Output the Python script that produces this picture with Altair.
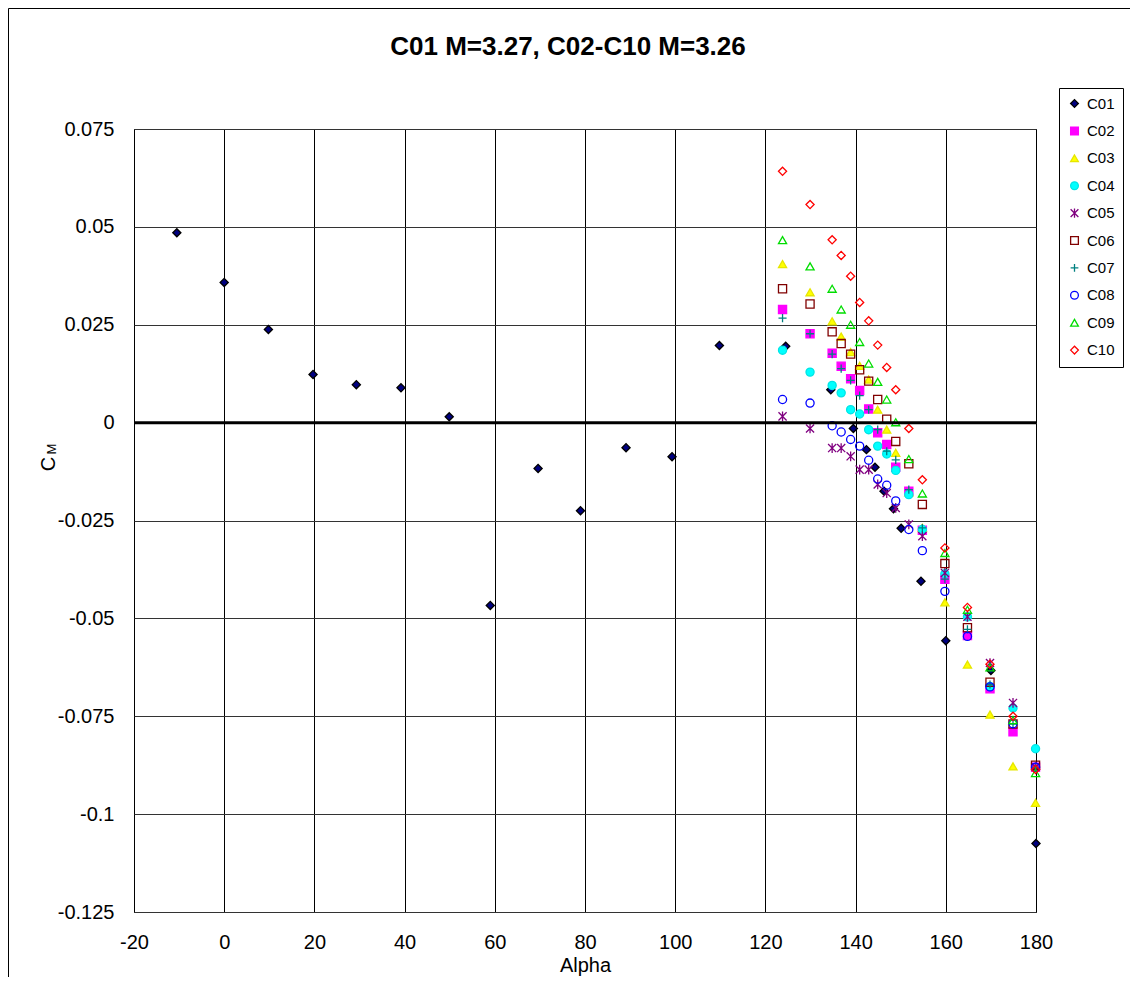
import altair as alt
import pandas as pd

SERIES = ["C01", "C02", "C03", "C04", "C05", "C06", "C07", "C08", "C09", "C10"]

C01_ALPHA = [-10.5, 0, 9.8, 19.7, 29.3, 39.2, 49.9, 59.0, 69.6, 79.0, 89.1, 99.3, 109.8,
             124.5, 134.5, 139.5, 142.4, 144.3, 146.3, 148.4, 150.1, 154.5, 160.0, 170.0, 180.0]
C01_CM = [0.0485, 0.0358, 0.0238, 0.0123, 0.0097, 0.0089, 0.0015, -0.0467, -0.0117, -0.0225,
          -0.0064, -0.0087, 0.0197, 0.0195, 0.0084, -0.0015, -0.0069, -0.0114, -0.0175, -0.022,
          -0.027, -0.0405, -0.0557, -0.0633, -0.1075]

ALPHA = [123.8, 129.9, 134.8, 136.8, 138.9, 140.9, 142.9, 144.9, 146.9, 148.9,
         151.8, 154.8, 159.8, 164.8, 169.8, 174.9, 179.9]

C02_CM = [0.0289, 0.0227, 0.0177, 0.0144, 0.0112, 0.0082, 0.0035, -0.0026, -0.0056, -0.0114,
          -0.0175, -0.0275, -0.0400, -0.0544, -0.0680, -0.0790, -0.0880]
C03_CM = [0.0405, 0.0333, 0.0259, 0.0220, 0.0180, 0.0145, 0.0110, 0.0033, -0.0018, -0.0077,
          -0.0178, -0.0269, -0.0459, -0.0618, -0.0746, -0.0878, -0.0971]
C04_CM = [0.0185, 0.0129, 0.0095, 0.0076, 0.0033, 0.0022, -0.0018, -0.0060, -0.0080, -0.0122,
          -0.0184, -0.0273, -0.0386, -0.0496, -0.0674, -0.0729, -0.0833]
C05_CM = [0.0016, -0.0015, -0.0065, -0.0065, -0.0086, -0.0120, -0.0120, -0.0158, -0.0180, -0.0218,
          -0.0260, -0.0290, -0.0384, -0.0496, -0.0614, -0.0716, -0.0880]
C06_CM = [0.0342, 0.0303, 0.0232, 0.0202, 0.0175, 0.0135, 0.0106, 0.0059, 0.0009, -0.0048,
          -0.0105, -0.0209, -0.0360, -0.0524, -0.0663, -0.0770, -0.0875]
C07_CM = [0.0267, 0.0227, 0.0175, 0.0138, 0.0108, 0.0069, 0.0033, -0.0018, -0.0073, -0.0095,
          -0.0171, -0.0269, -0.0400, -0.0528, -0.0669, -0.0770, -0.0880]
C08_CM = [0.0059, 0.0050, -0.0008, -0.0024, -0.0043, -0.0060, -0.0096, -0.0144, -0.0160, -0.0200,
          -0.0273, -0.0327, -0.0431, -0.0546, -0.0675, -0.0769, -0.0880]
C09_CM = [0.0466, 0.0399, 0.0342, 0.0289, 0.0250, 0.0206, 0.0151, 0.0104, 0.0059, 0.0001,
          -0.0093, -0.0181, -0.0333, -0.0478, -0.0625, -0.0760, -0.0895]
C10_CM = [0.0642, 0.0557, 0.0467, 0.0427, 0.0374, 0.0307, 0.0260, 0.0198, 0.0141, 0.0084,
          -0.0015, -0.0146, -0.0320, -0.0472, -0.0617, -0.0750, -0.0886]

X_TICKS = [-20, 0, 20, 40, 60, 80, 100, 120, 140, 160, 180]
Y_TICKS = [-0.125, -0.1, -0.075, -0.05, -0.025, 0, 0.025, 0.05, 0.075]

STROKES = ["#000000", "#FF00FF", "#E6E600", "#00E5E5", "#800080",
           "#800000", "#008080", "#0000FF", "#00DD00", "#FF0000"]
FILLS = ["#000080", "#FF00FF", "#FFFF00", "#00FFFF", "transparent",
         "transparent", "transparent", "transparent", "transparent", "transparent"]
SHAPES = ["diamond", "square", "triangle-up", "circle",
          "M-1,-1L1,1M-1,1L1,-1M0,-1.2L0,1.2",
          "square", "M-1,0L1,0M0,-1L0,1", "circle", "triangle-up", "diamond"]

rows = []
for a, c in zip(C01_ALPHA, C01_CM):
    rows.append({"series": "C01", "alpha": a, "cm": c})
others = {"C02": C02_CM, "C03": C03_CM, "C04": C04_CM, "C05": C05_CM, "C06": C06_CM,
          "C07": C07_CM, "C08": C08_CM, "C09": C09_CM, "C10": C10_CM}
for name, vals in others.items():
    for a, c in zip(ALPHA, vals):
        rows.append({"series": name, "alpha": a, "cm": c})
df = pd.DataFrame(rows)

FONT = "Liberation Sans"

xscale = alt.Scale(domain=[-20, 180], nice=False, zero=False)
yscale = alt.Scale(domain=[-0.125, 0.075], nice=False, zero=False)

points = alt.Chart(df).mark_point(size=66, strokeWidth=1.3, opacity=1).encode(
    x=alt.X("alpha:Q", scale=xscale,
            axis=alt.Axis(values=X_TICKS, title="Alpha", labelExpr="'' + datum.value",
                          gridColor="#000000", gridOpacity=1, gridWidth=1,
                          ticks=False, domain=False, labelPadding=20, titlePadding=3,
                          labelFlush=False, labelOverlap=False,
                          labelFontSize=20, titleFontSize=20, labelFont=FONT, titleFont=FONT,
                          titleFontWeight="normal", labelColor="#000", titleColor="#000")),
    y=alt.Y("cm:Q", scale=yscale,
            axis=alt.Axis(values=Y_TICKS, title="", labelExpr="'' + datum.value",
                          gridColor="#333333", gridOpacity=1, gridWidth=1,
                          ticks=False, domain=False, labelPadding=20,
                          labelFlush=False, labelOverlap=False,
                          labelFontSize=20, labelFont=FONT, labelColor="#000")),
    stroke=alt.Stroke("series:N", scale=alt.Scale(domain=SERIES, range=STROKES), title=None),
    fill=alt.Fill("series:N", scale=alt.Scale(domain=SERIES, range=FILLS), title=None),
    shape=alt.Shape("series:N", scale=alt.Scale(domain=SERIES, range=SHAPES), title=None),
)

zero = alt.Chart(pd.DataFrame({"z": [0]})).mark_rule(color="#000", strokeWidth=3).encode(
    y=alt.Y("z:Q", scale=yscale))

title = alt.Chart(pd.DataFrame({"t": ["C01 M=3.27, C02-C10 M=3.26"]})).mark_text(
    font=FONT, fontSize=26, fontWeight="bold", color="#000", align="center", baseline="middle"
).encode(text="t:N", x=alt.value(434), y=alt.value(-82))

ytitle_c = alt.Chart(pd.DataFrame({"t": ["C"]})).mark_text(
    font=FONT, fontSize=20, color="#000", angle=270, align="center", baseline="middle"
).encode(text="t:N", x=alt.value(-85), y=alt.value(335))
ytitle_m = alt.Chart(pd.DataFrame({"t": ["M"]})).mark_text(
    font=FONT, fontSize=13, color="#000", angle=270, align="center", baseline="middle"
).encode(text="t:N", x=alt.value(-82), y=alt.value(320))

frame_v = alt.Chart(pd.DataFrame({"k": [0]})).mark_rule(color="#000", strokeWidth=1).encode(
    x=alt.value(-125.5), y=alt.value(-120.5), y2=alt.value(860))
frame_h = alt.Chart(pd.DataFrame({"k": [0]})).mark_rule(color="#000", strokeWidth=1).encode(
    x=alt.value(-125.5), x2=alt.value(1000), y=alt.value(-120.5))

chart = alt.layer(frame_v, frame_h, points, zero, title, ytitle_c, ytitle_m).properties(
    width=902, height=783,
    autosize=alt.AutoSizeParams(type="none"),
    padding={"left": 126, "top": 121, "right": 94, "bottom": 65},
    background="white",
).configure_view(
    stroke="#000", strokeWidth=1
).configure_legend(
    orient="none", legendX=925, legendY=-41,
    padding=8, strokeColor="#000", fillColor="#fff", cornerRadius=0,
    labelFontSize=15, labelFont=FONT, labelColor="#000", labelOffset=5,
    rowPadding=11.4, symbolSize=60, symbolStrokeWidth=1.3,
)

chart.save("out.html", embed_options={"renderer": "svg", "actions": False})
